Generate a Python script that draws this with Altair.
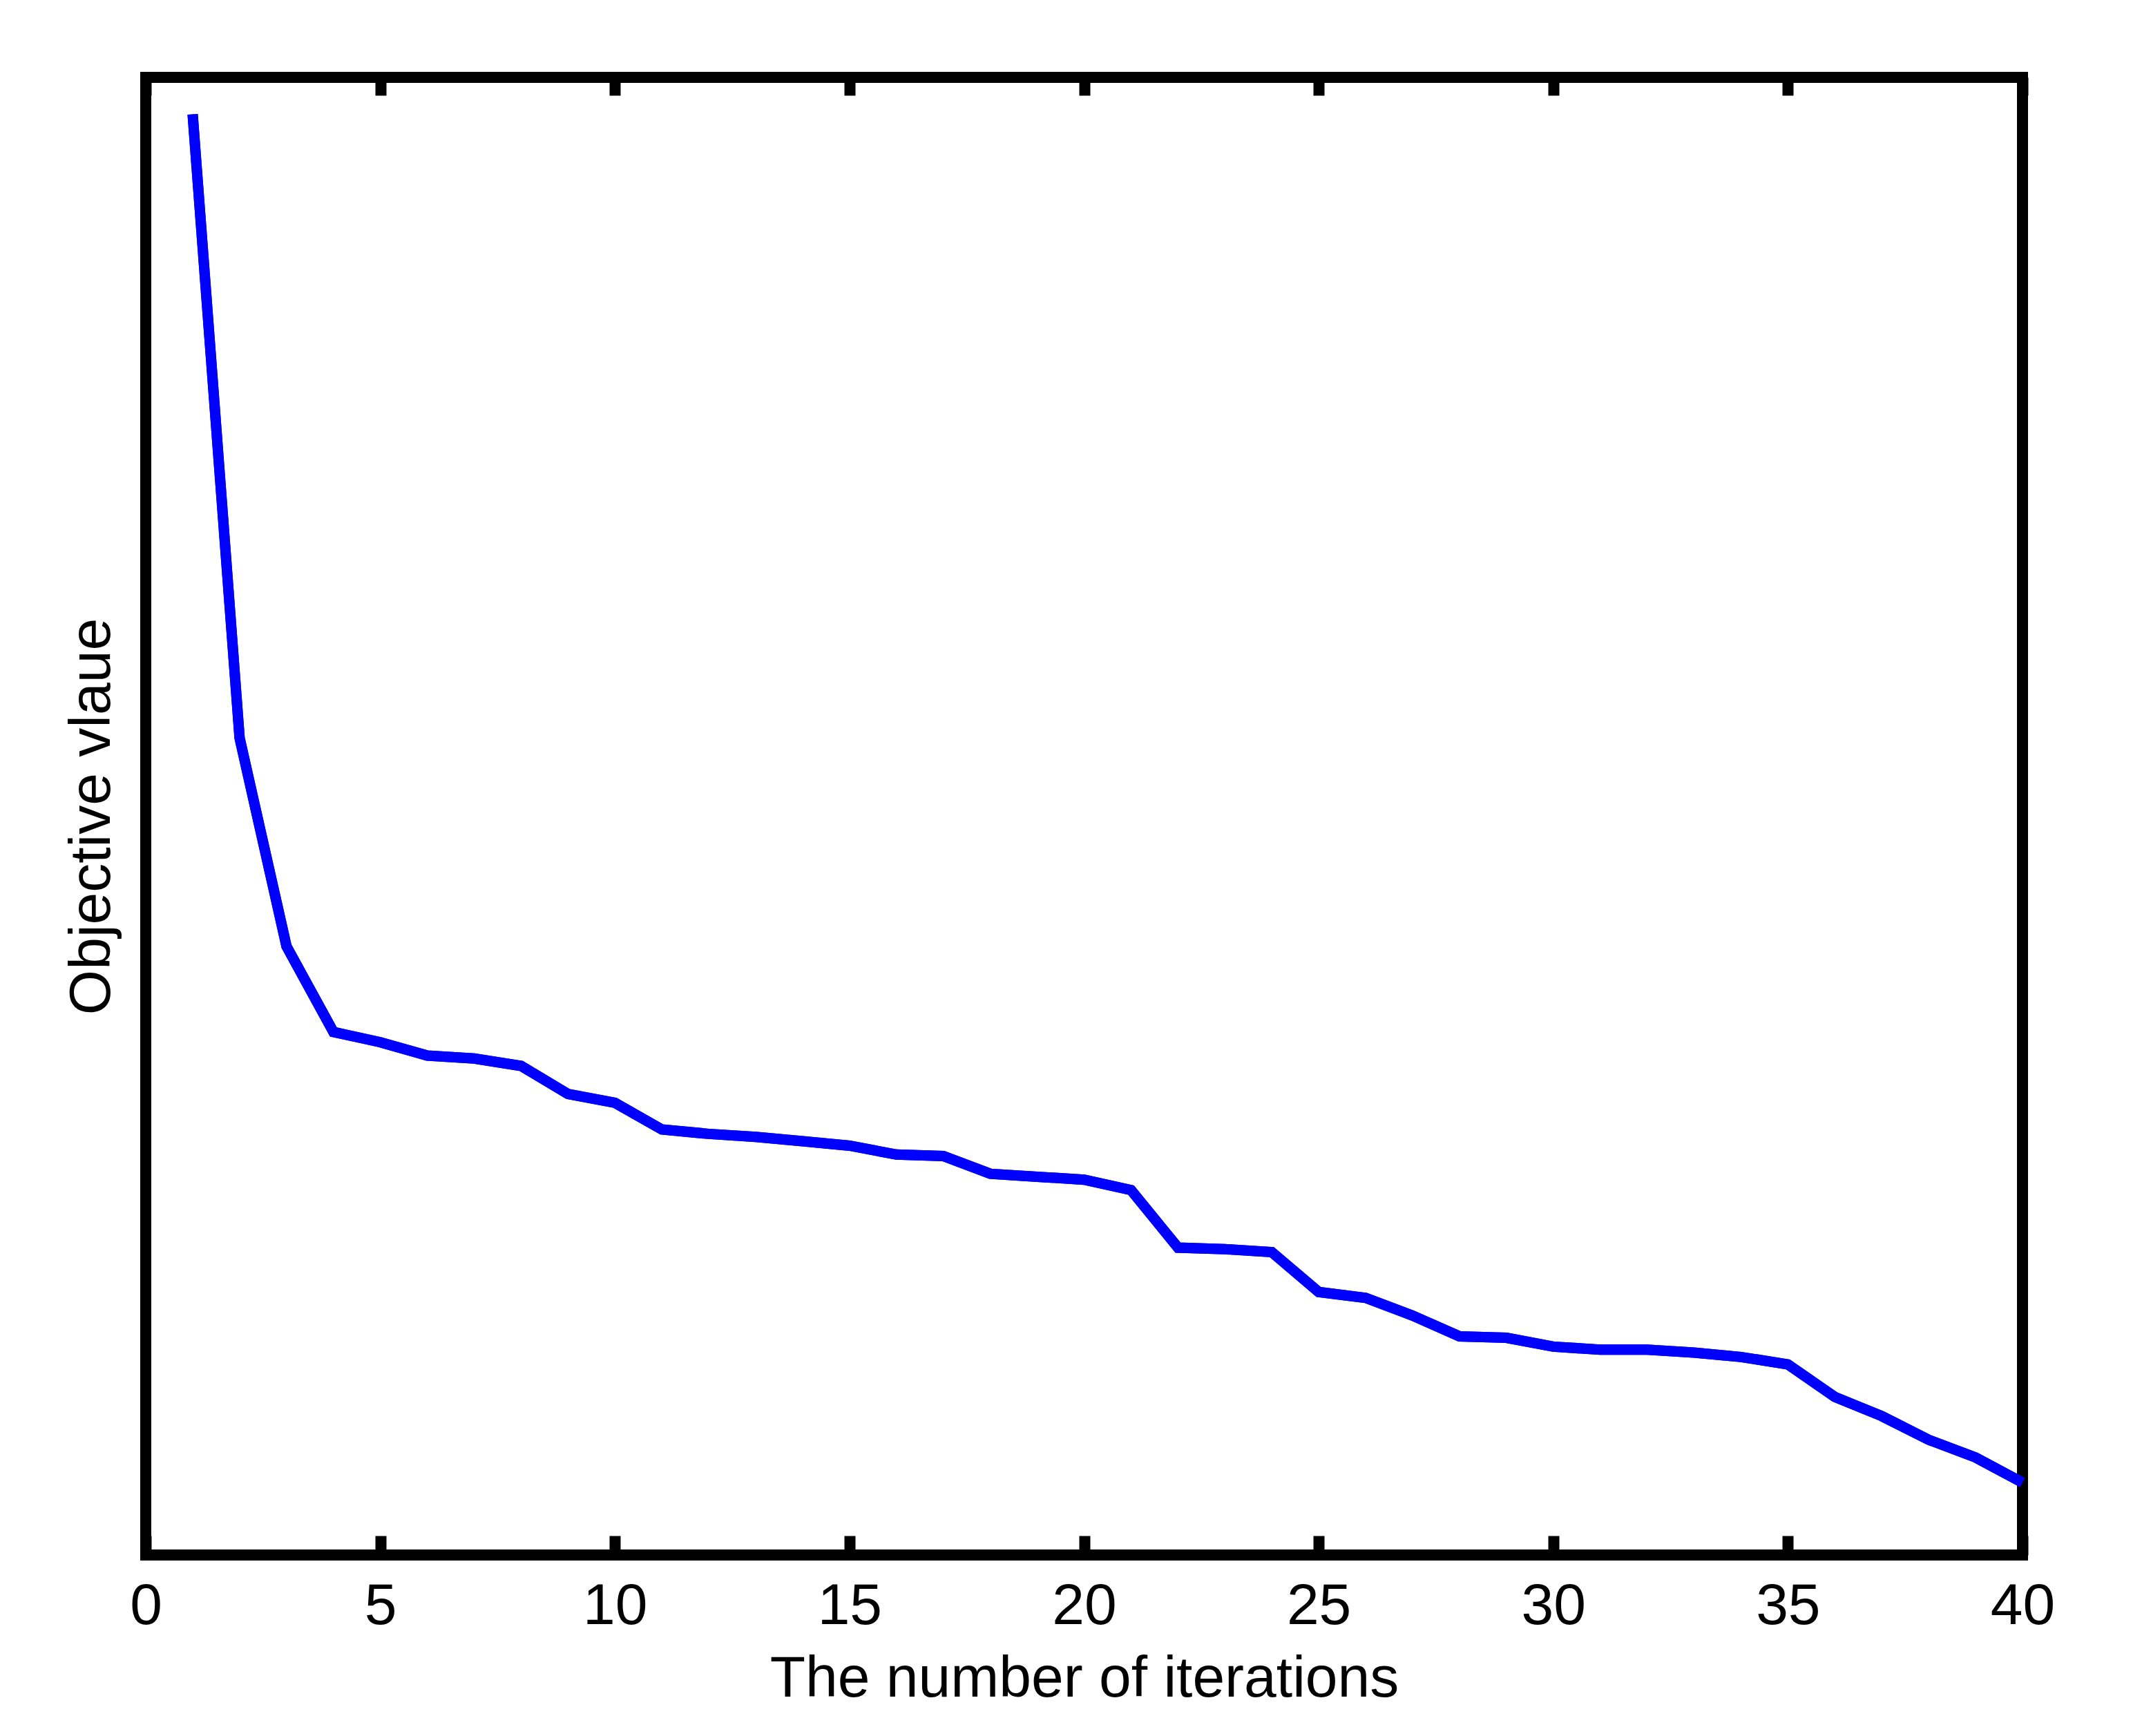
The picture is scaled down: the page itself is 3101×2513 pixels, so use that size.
import altair as alt
import pandas as pd

iterations = list(range(1, 41))
objective = [97.5, 55.3, 41.2, 35.4, 34.7, 33.8, 33.6, 33.1, 31.2, 30.6,
             28.8, 28.5, 28.3, 28.0, 27.7, 27.1, 27.0, 25.8, 25.6, 25.4,
             24.7, 20.8, 20.7, 20.5, 17.8, 17.4, 16.2, 14.8, 14.7, 14.1,
             13.9, 13.9, 13.7, 13.4, 12.9, 10.7, 9.4, 7.8, 6.6, 4.9]
x_ticks = [0, 5, 10, 15, 20, 25, 30, 35, 40]

df = pd.DataFrame({"iter": iterations, "obj": objective})

FONT = "Liberation Sans"
xscale = alt.Scale(domain=[0, 40], nice=False, zero=False)
yscale = alt.Scale(domain=[0, 100], nice=False, zero=False)

bottom_axis = alt.Axis(
    orient="bottom", values=x_ticks, title="The number of iterations",
    domain=False, grid=False, ticks=True, tickSize=28, tickWidth=16,
    tickColor="black", offset=-28, labelPadding=33, labelFontSize=84,
    labelFont=FONT, labelColor="black", labelFlush=False, labelOverlap=False,
    titleFont=FONT, titleFontSize=84, titleFontWeight="normal",
    titleColor="black", titleBaseline="alphabetic", titleY=232,
)

top_axis = alt.Axis(
    orient="top", values=x_ticks, title="", labels=False,
    domain=False, grid=False, ticks=True, tickSize=26, tickWidth=16,
    tickColor="black", offset=-26,
)

left_axis = alt.Axis(
    orient="left", title="Objective vlaue", labels=False, ticks=False,
    domain=False, grid=False, titleFont=FONT, titleFontSize=84,
    titleFontWeight="normal", titleColor="black",
    titleBaseline="alphabetic", titleX=-53,
)

line = alt.Chart(df).mark_line(
    color="#0000ff", strokeWidth=15, strokeCap="butt", strokeJoin="miter"
).encode(
    x=alt.X("iter:Q", scale=xscale, axis=bottom_axis),
    y=alt.Y("obj:Q", scale=yscale, axis=left_axis),
)

top = alt.Chart(df).mark_line(
    color="#0000ff", strokeWidth=15, strokeCap="butt", strokeJoin="miter"
).encode(
    x=alt.X("iter:Q", scale=xscale, axis=top_axis),
    y=alt.Y("obj:Q", scale=yscale, axis=left_axis),
)

chart = alt.layer(line, top).resolve_axis(x="independent").properties(
    width=2717,
    height=2139,
    autosize=alt.AutoSizeParams(type="none"),
    padding={"left": 203, "top": 104, "right": 165, "bottom": 250},
    background="white",
).configure_view(stroke="black", strokeWidth=16)

chart.save("out.html", embed_options={"renderer": "svg", "actions": False})
